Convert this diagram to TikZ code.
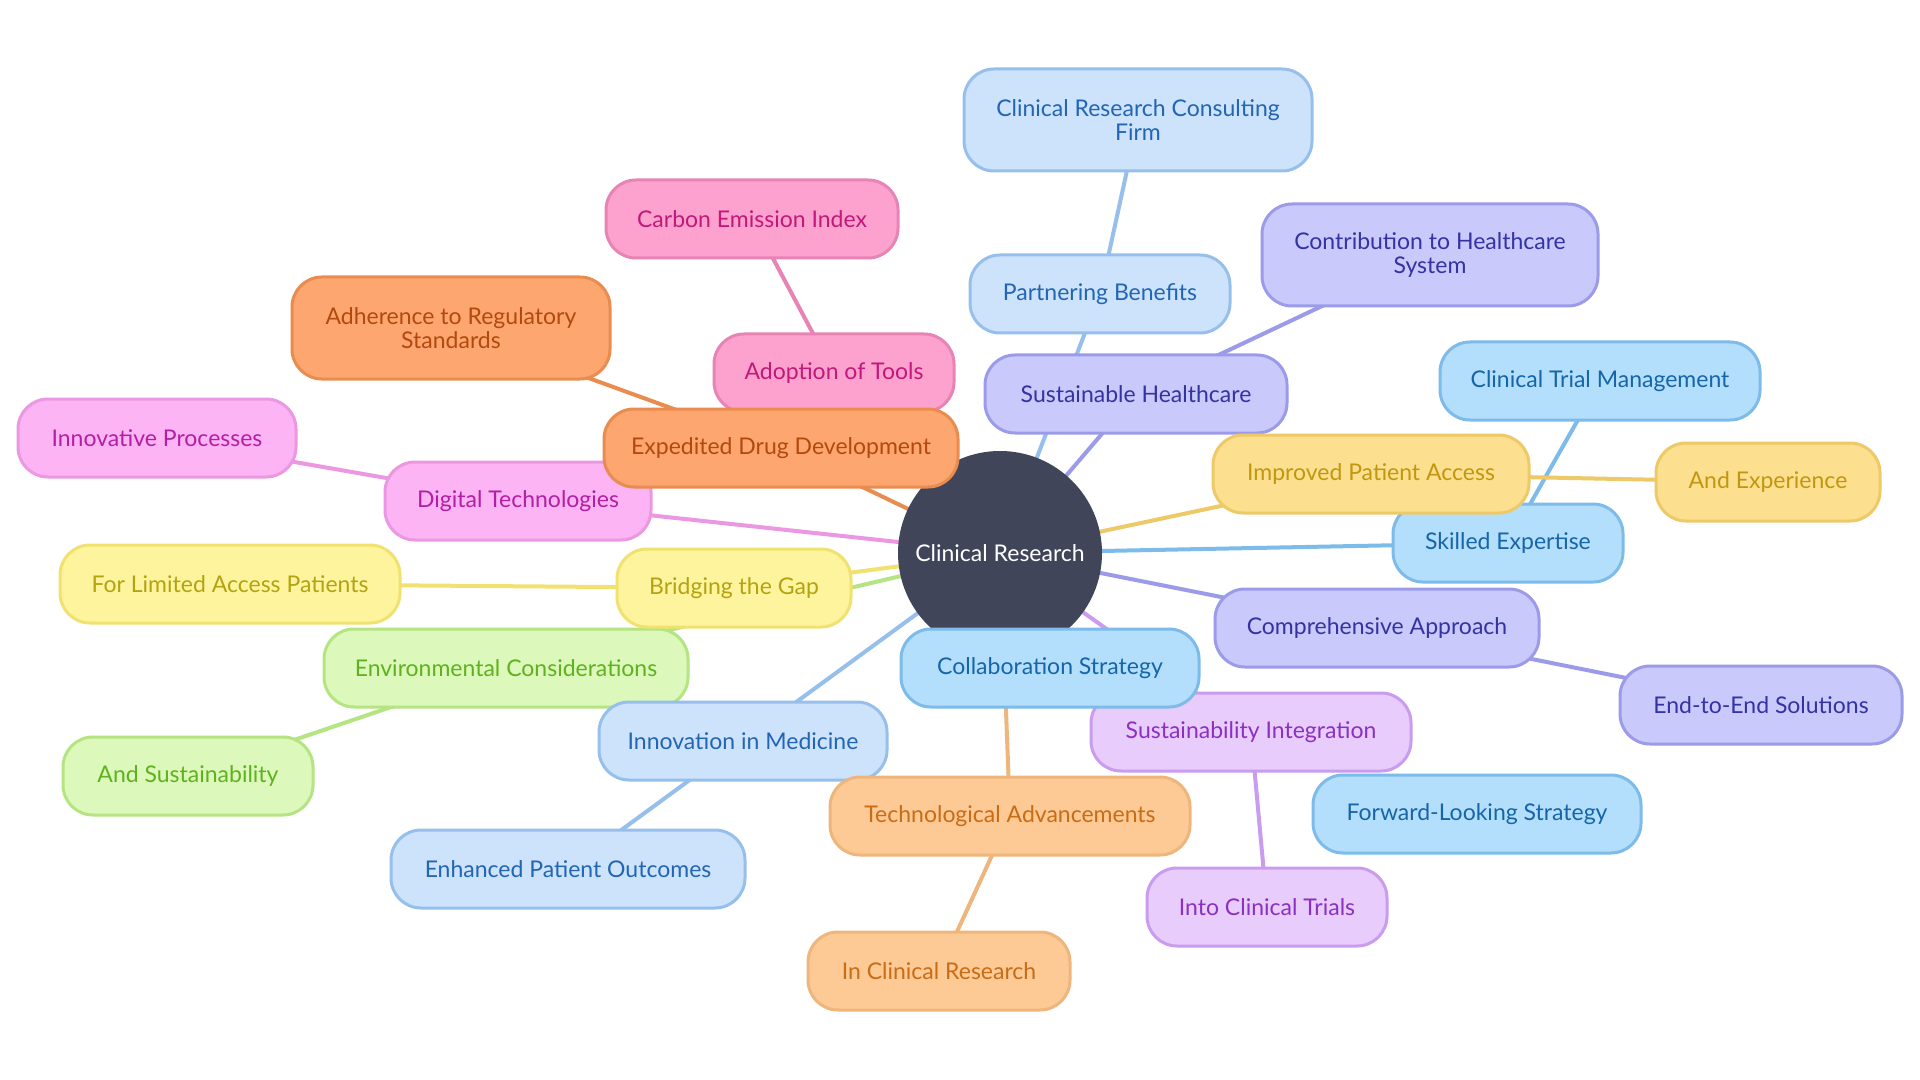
\documentclass[tikz,border=0pt]{standalone}
\usepackage{fontspec}
\setmainfont{Lato}
\usetikzlibrary{backgrounds}
% colour families: fill, line, text
\definecolor{coreFill}{HTML}{414559}
\definecolor{paleFill}{HTML}{CDE3FB}\definecolor{paleLine}{HTML}{97BFEC}\definecolor{paleText}{HTML}{2165B4}
\definecolor{skyFill}{HTML}{B3DFFD}\definecolor{skyLine}{HTML}{7DBBEB}\definecolor{skyText}{HTML}{1565A8}
\definecolor{violFill}{HTML}{C9C9FB}\definecolor{violLine}{HTML}{9B9BEA}\definecolor{violText}{HTML}{3333A3}
\definecolor{roseFill}{HTML}{FDA2CE}\definecolor{roseLine}{HTML}{E884B5}\definecolor{roseText}{HTML}{C2187B}
\definecolor{tangFill}{HTML}{FDA66F}\definecolor{tangLine}{HTML}{E98C50}\definecolor{tangText}{HTML}{B3490F}
\definecolor{orchFill}{HTML}{FCB4F5}\definecolor{orchLine}{HTML}{EC97E1}\definecolor{orchText}{HTML}{B21FA3}
\definecolor{lemFill}{HTML}{FEF49D}\definecolor{lemLine}{HTML}{F1E270}\definecolor{lemText}{HTML}{B3A312}
\definecolor{limeFill}{HTML}{DCF8BA}\definecolor{limeLine}{HTML}{B5E482}\definecolor{limeText}{HTML}{5FB21F}
\definecolor{peachFill}{HTML}{FDC994}\definecolor{peachLine}{HTML}{EEB67C}\definecolor{peachText}{HTML}{C96C16}
\definecolor{lilFill}{HTML}{E7CCFC}\definecolor{lilLine}{HTML}{CA9CEF}\definecolor{lilText}{HTML}{8B30C2}
\definecolor{goldFill}{HTML}{FCE090}\definecolor{goldLine}{HTML}{EEC967}\definecolor{goldText}{HTML}{C2970F}
\begin{document}
\begin{tikzpicture}[x=0.5pt,y=-0.5pt,
    pill/.style={rounded corners=15pt, line width=1.5pt, minimum height=39pt,
      inner sep=0pt, align=center, font=\fontsize{11.5}{12}\selectfont},
    fam/.style={pill, draw=#1Line, fill=#1Fill, text=#1Text},
    hub/.style={circle, fill=coreFill, text=white, minimum size=102pt,
      inner sep=0pt, font=\fontsize{11.5}{12}\selectfont},
    link/.style={line width=2pt}]
  \useasboundingbox (0,0) rectangle (1920,1080);
  % Centre
  \node[hub] (hub) at (1000,553) {Clinical Research};
  % Upper branches
  \node[fam=pale, minimum width=174pt, minimum height=51pt] (firm) at (1138,120) {Clinical Research Consulting\\Firm};
  \node[fam=pale, minimum width=130pt] (partner) at (1100,294) {Partnering Benefits};
  \node[fam=viol, minimum width=168pt, minimum height=51pt] (contrib) at (1430,255) {Contribution to Healthcare\\System};
  \node[fam=viol, minimum width=151pt] (sushealth) at (1136,394) {Sustainable Healthcare};
  \node[fam=rose, minimum width=146pt] (carbon) at (752,219) {Carbon Emission Index};
  \node[fam=rose, minimum width=120pt] (tools) at (834,373) {Adoption of Tools};
  \node[fam=tang, minimum width=159pt, minimum height=51pt] (regul) at (451,328) {Adherence to Regulatory\\Standards};
  % Left branches
  \node[fam=orch, minimum width=139pt] (innoproc) at (157,438) {Innovative Processes};
  \node[fam=orch, minimum width=133pt] (digital) at (518,501) {Digital Technologies};
  \node[fam=tang, minimum width=177pt] (drugdev) at (781,448) {Expedited Drug Development};
  \node[fam=lem, minimum width=170pt] (limited) at (230,584) {For Limited Access Patients};
  \node[fam=lime, minimum width=182pt] (environ) at (506,668) {Environmental Considerations};
  \node[fam=lem, minimum width=117pt] (bridge) at (734,588) {Bridging the Gap};
  \node[fam=lime, minimum width=125pt] (andsust) at (188,776) {And Sustainability};
  \node[fam=pale, minimum width=144pt] (innomed) at (743,741) {Innovation in Medicine};
  \node[fam=pale, minimum width=177pt] (outcomes) at (568,869) {Enhanced Patient Outcomes};
  % Lower branches
  \node[fam=lil, minimum width=160pt] (susint) at (1251,732) {Sustainability Integration};
  \node[fam=lil, minimum width=120pt] (trials) at (1267,907) {Into Clinical Trials};
  \node[fam=peach, minimum width=180pt] (techadv) at (1010,816) {Technological Advancements};
  \node[fam=peach, minimum width=131pt] (inclin) at (939,971) {In Clinical Research};
  \node[fam=sky, minimum width=149pt] (collab) at (1050,668) {Collaboration Strategy};
  \node[fam=sky, minimum width=164pt] (forward) at (1477,814) {Forward-Looking Strategy};
  % Right branches
  \node[fam=sky, minimum width=160pt] (trialmgmt) at (1600,381) {Clinical Trial Management};
  \node[fam=sky, minimum width=115pt] (skilled) at (1508,543) {Skilled Expertise};
  \node[fam=gold, minimum width=158pt] (access) at (1371,474) {Improved Patient Access};
  \node[fam=gold, minimum width=112pt] (experience) at (1768,482) {And Experience};
  \node[fam=viol, minimum width=162pt] (approach) at (1377,628) {Comprehensive Approach};
  \node[fam=viol, minimum width=141pt] (endtoend) at (1761,705) {End-to-End Solutions};
  % Links behind the boxes
  \begin{pgfonlayer}{background}
    \fill[white] (0,0) rectangle (1920,1080);
    \foreach \a/\b/\c in {hub/partner/paleLine, partner/firm/paleLine,
        hub/sushealth/violLine, sushealth/contrib/violLine,
        hub/tools/roseLine, tools/carbon/roseLine,
        hub/drugdev/tangLine, drugdev/regul/tangLine,
        hub/digital/orchLine, digital/innoproc/orchLine,
        hub/bridge/lemLine, bridge/limited/lemLine,
        hub/environ/limeLine, environ/andsust/limeLine,
        hub/innomed/paleLine, innomed/outcomes/paleLine,
        hub/techadv/peachLine, techadv/inclin/peachLine,
        hub/collab/skyLine,
        hub/susint/lilLine, susint/trials/lilLine,
        hub/approach/violLine, approach/endtoend/violLine,
        hub/skilled/skyLine, skilled/trialmgmt/skyLine,
        hub/access/goldLine, access/experience/goldLine}
      \draw[link,draw=\c] (\a.center) -- (\b.center);
  \end{pgfonlayer}
\end{tikzpicture}
\end{document}
